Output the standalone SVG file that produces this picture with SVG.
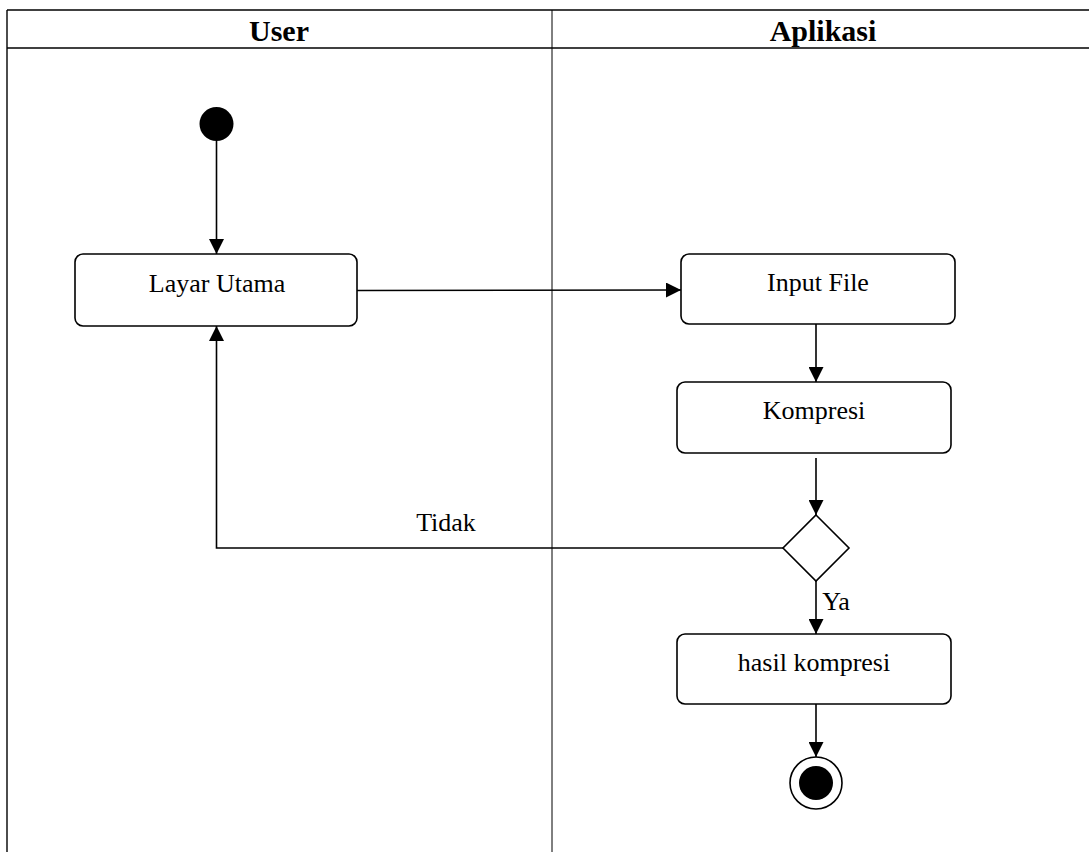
<svg xmlns="http://www.w3.org/2000/svg" width="1089" height="852" viewBox="0 0 1089 852">
<style>
.lane{stroke:#000;stroke-width:1.4;fill:none}
.div{stroke:#000;stroke-width:1;fill:none}
.box{fill:#fff;stroke:#000;stroke-width:1.6}
.t{font-family:"Liberation Serif","Times New Roman",serif;font-size:26px;fill:#000;text-anchor:middle}
.h{font-family:"Liberation Serif","Times New Roman",serif;font-size:30px;font-weight:bold;fill:#000;text-anchor:middle}
.c{stroke:#000;stroke-width:1.6;fill:none}
</style>
<defs>
<marker id="arr" viewBox="0 0 15 15" refX="15" refY="7.5" markerWidth="15" markerHeight="15" markerUnits="userSpaceOnUse" orient="auto">
<path d="M0,0 L15,7.5 L0,15 Z" fill="#000"/>
</marker>
</defs>
<rect width="1089" height="852" fill="#fff"/>
<g id="lanes">
<line class="lane" x1="7" y1="10" x2="1089" y2="10"/>
<line class="lane" x1="7" y1="48" x2="1089" y2="48"/>
<line class="lane" x1="7" y1="10" x2="7" y2="852"/>
<line class="div" x1="552" y1="10" x2="552" y2="852"/>
<text class="h" x="279" y="41">User</text>
<text class="h" x="823" y="41">Aplikasi</text>
</g>
<g id="connectors">
<line class="c" x1="216.5" y1="141" x2="216.5" y2="254" marker-end="url(#arr)"/>
<line class="c" x1="357" y1="290.5" x2="681" y2="290" marker-end="url(#arr)"/>
<line class="c" x1="816" y1="324" x2="816" y2="382" marker-end="url(#arr)"/>
<line class="c" x1="816" y1="458" x2="816" y2="515" marker-end="url(#arr)"/>
<polyline class="c" points="783,548 216.5,548 216.5,326" marker-end="url(#arr)"/>
<line class="c" x1="816" y1="581" x2="816" y2="634" marker-end="url(#arr)"/>
<line class="c" x1="816" y1="704" x2="816" y2="757" marker-end="url(#arr)"/>
<text class="t" x="446" y="531">Tidak</text>
<text class="t" x="836" y="610">Ya</text>
</g>
<g id="start">
<circle cx="216.5" cy="124" r="17" fill="#000"/>
</g>
<g id="layar-utama">
<rect class="box" x="75" y="254" width="282" height="72" rx="8"/>
<text class="t" x="217" y="292">Layar Utama</text>
</g>
<g id="input-file">
<rect class="box" x="681" y="254" width="274" height="70" rx="8"/>
<text class="t" x="818" y="291">Input File</text>
</g>
<g id="kompresi">
<rect class="box" x="677" y="382" width="274" height="71" rx="8"/>
<text class="t" x="814" y="419">Kompresi</text>
</g>
<g id="decision">
<polygon class="box" points="816,515 849,548 816,581 783,548"/>
</g>
<g id="hasil-kompresi">
<rect class="box" x="677" y="634" width="274" height="70" rx="8"/>
<text class="t" x="814" y="671">hasil kompresi</text>
</g>
<g id="end">
<circle cx="816" cy="783" r="26" fill="#fff" stroke="#000" stroke-width="1.6"/>
<circle cx="816" cy="783" r="17" fill="#000"/>
</g>
</svg>
